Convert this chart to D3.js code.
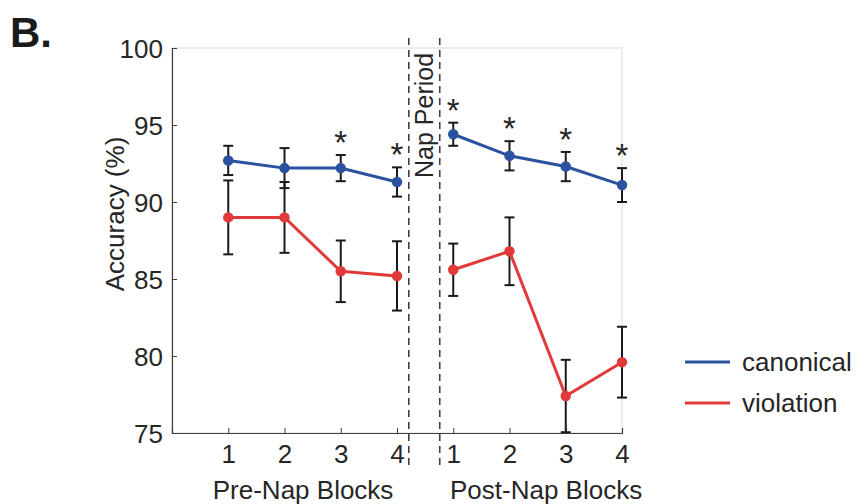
<!DOCTYPE html>
<html>
<head>
<meta charset="utf-8">
<script src="https://cdn.jsdelivr.net/npm/d3@7"></script>
<style>
  body { margin: 0; background: #fff; }
  svg { font-family: "Liberation Sans", Arial, sans-serif; }
</style>
</head>
<body>
<div id="chart"></div>
<script>
// ===============================
// DATOS
// ===============================
const blockLabels = ['1', '2', '3', '4', '1', '2', '3', '4'];
const blockPos = [1, 2, 3, 4, 5, 6, 7, 8];
const canonicalMean = [92.7, 92.2, 92.2, 91.3, 94.4, 93.0, 92.3, 91.1];
const canonicalErr = [0.95, 1.3, 0.85, 0.95, 0.75, 0.95, 0.95, 1.1];
const violationMean = [89.0, 89.0, 85.5, 85.2, 85.6, 86.8, 77.4, 79.6];
const violationErr = [2.4, 2.3, 2.0, 2.25, 1.7, 2.2, 2.35, 2.3];
const significant = [false, false, true, true, true, true, true, true];
const yTicks = [75, 80, 85, 90, 95, 100];
const napBounds = [4.21, 4.76];

const series = [
  { name: 'canonical', color: '#2b52a0', mean: canonicalMean, err: canonicalErr },
  { name: 'violation', color: '#e03a3a', mean: violationMean, err: violationErr }
];

// ===============================
// RENDER
// ===============================
const width = 856, height = 504;
const textColor = '#262626';

const svg = d3.select('#chart').append('svg')
  .attr('width', width)
  .attr('height', height);

const x = d3.scaleLinear().domain([0, 8]).range([172, 622]);
const y = d3.scaleLinear().domain([75, 100]).range([433, 48]);

// caja
svg.append('rect')
  .attr('x', x(0)).attr('y', y(100))
  .attr('width', x(8) - x(0)).attr('height', y(75) - y(100))
  .attr('fill', 'none').attr('stroke', '#d9d9d9').attr('stroke-width', 1);

// recorte solo arriba/abajo (las barras del borde derecho se ven enteras)
svg.append('defs').append('clipPath').attr('id', 'plot')
  .append('rect')
  .attr('x', x(0) - 20).attr('y', y(100))
  .attr('width', x(8) - x(0) + 40).attr('height', y(75) - y(100));

// ejes
const yAxis = svg.append('g')
  .attr('transform', `translate(${x(0)},0)`)
  .call(d3.axisLeft(y).tickValues(yTicks).tickSize(-5).tickPadding(9));

const xAxis = svg.append('g')
  .attr('transform', `translate(0,${y(75)})`)
  .call(d3.axisBottom(x).tickValues(blockPos).tickFormat((d, i) => blockLabels[i])
    .tickSize(-5).tickPadding(12));

[yAxis, xAxis].forEach(a => {
  a.select('.domain').attr('stroke', '#404040').attr('stroke-width', 1.2);
  a.selectAll('.tick line').attr('stroke', '#404040');
  a.selectAll('.tick text').attr('fill', textColor).attr('font-size', 26);
});
yAxis.selectAll('.tick text').attr('dy', '0.36em');

// periodo de siesta
napBounds.forEach(b => {
  svg.append('line')
    .attr('x1', x(b)).attr('x2', x(b))
    .attr('y1', 38).attr('y2', 466)
    .attr('stroke', '#404040').attr('stroke-width', 1.6)
    .attr('stroke-dasharray', '7,5');
});

svg.append('text')
  .attr('transform', `translate(${x(4.5) + 8},178) rotate(-90)`)
  .attr('fill', textColor).attr('font-size', 25)
  .text('Nap Period');

// series
const plot = svg.append('g').attr('clip-path', 'url(#plot)');

series.forEach(s => {
  blockPos.forEach((p, i) => {
    const top = y(s.mean[i] + s.err[i]);
    const bot = y(s.mean[i] - s.err[i]);
    plot.append('line')
      .attr('x1', x(p)).attr('x2', x(p)).attr('y1', top).attr('y2', bot)
      .attr('stroke', '#1a1a1a').attr('stroke-width', 2);
    [top, bot].forEach(v => plot.append('line')
      .attr('x1', x(p) - 5).attr('x2', x(p) + 5).attr('y1', v).attr('y2', v)
      .attr('stroke', '#1a1a1a').attr('stroke-width', 2));
  });
});

const line = d3.line().x(d => x(d.p)).y(d => y(d.v));

series.forEach(s => {
  const pts = blockPos.map((p, i) => ({ p, v: s.mean[i] }));
  [pts.slice(0, 4), pts.slice(4)].forEach(seg => {
    plot.append('path')
      .attr('d', line(seg))
      .attr('fill', 'none')
      .attr('stroke', s.color)
      .attr('stroke-width', 3);
  });
  plot.selectAll(null)
    .data(pts)
    .enter()
    .append('circle')
    .attr('cx', d => x(d.p))
    .attr('cy', d => y(d.v))
    .attr('r', 4.5)
    .attr('fill', s.color)
    .attr('stroke', s.color)
    .attr('stroke-width', 1.5);
});

// asteriscos
blockPos.forEach((p, i) => {
  if (!significant[i]) return;
  svg.append('text')
    .attr('x', x(p))
    .attr('y', y(canonicalMean[i] + canonicalErr[i]) - 1)
    .attr('text-anchor', 'middle')
    .attr('fill', textColor).attr('font-size', 33)
    .text('*');
});

// etiquetas
svg.append('text')
  .attr('transform', `translate(124,214) rotate(-90)`)
  .attr('text-anchor', 'middle')
  .attr('fill', textColor).attr('font-size', 26)
  .text('Accuracy (%)');

svg.append('text')
  .attr('x', x(2.33)).attr('y', 499)
  .attr('text-anchor', 'middle')
  .attr('fill', textColor).attr('font-size', 26)
  .text('Pre-Nap Blocks');

svg.append('text')
  .attr('x', x(6.65)).attr('y', 499)
  .attr('text-anchor', 'middle')
  .attr('fill', textColor).attr('font-size', 26)
  .text('Post-Nap Blocks');

svg.append('text')
  .attr('x', 10).attr('y', 47)
  .attr('fill', '#1a1a1a').attr('font-size', 42).attr('font-weight', 'bold')
  .text('B.');

// leyenda
series.forEach((s, i) => {
  const ly = 362 + i * 41;
  svg.append('line')
    .attr('x1', 685).attr('x2', 730).attr('y1', ly).attr('y2', ly)
    .attr('stroke', s.color).attr('stroke-width', 3);
  svg.append('text')
    .attr('x', 742).attr('y', ly + 9)
    .attr('fill', textColor).attr('font-size', 26)
    .text(s.name);
});
</script>
</body>
</html>
